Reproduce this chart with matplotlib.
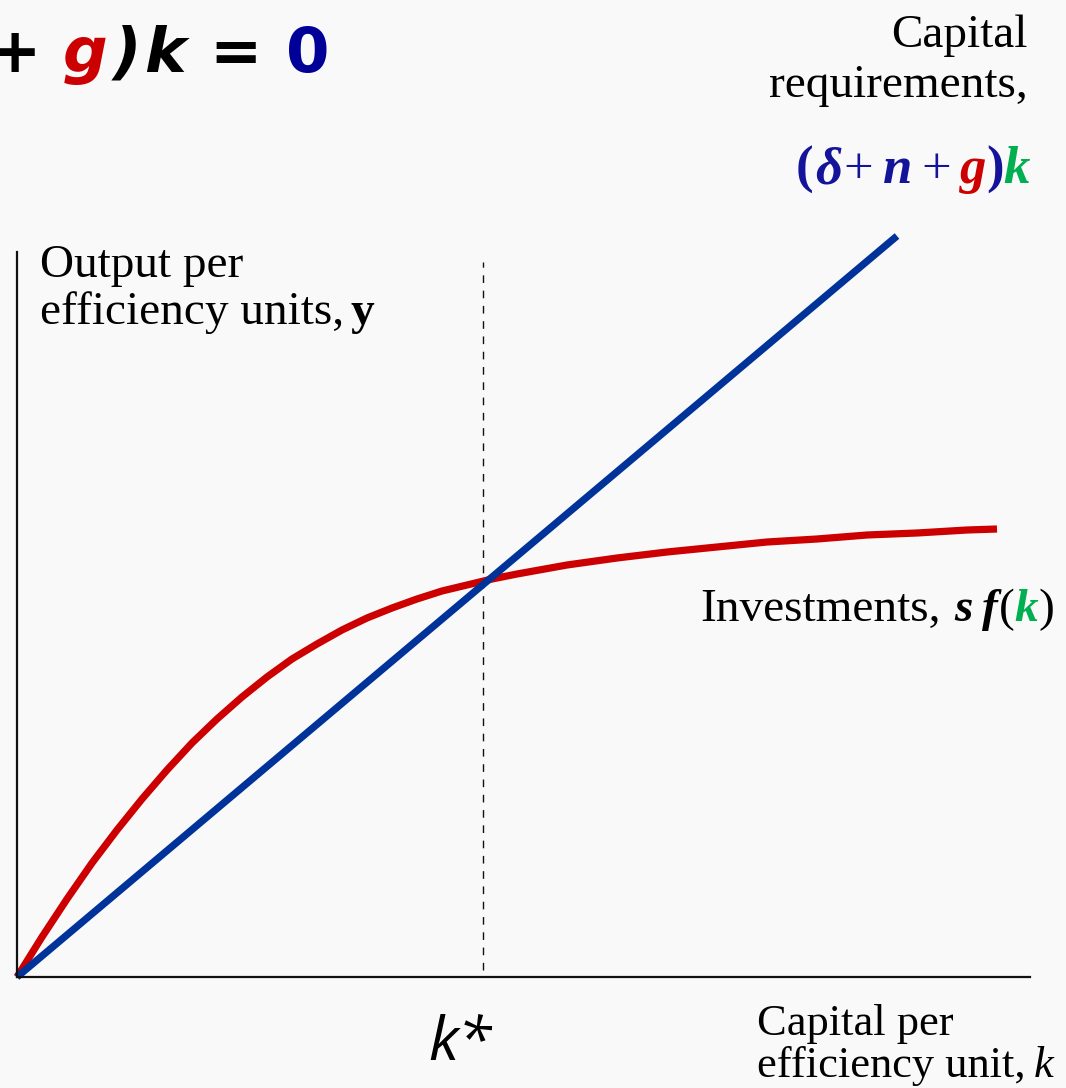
import matplotlib
matplotlib.use("Agg")
import matplotlib.pyplot as plt

W, H = 1066, 1088

# capital per efficiency unit and investment s*f(k)
k_vals = [0, 0.25, 0.5, 0.75, 1.0, 1.25, 1.5, 1.75, 2.0, 2.25, 2.5, 2.75,
          3.0, 3.25, 3.5, 3.75, 4.0, 4.25, 4.5, 4.75, 5.0, 5.5, 6.0, 6.5,
          7.0, 7.5, 8.0, 8.5, 9.0, 9.5, 9.8]
sf_vals = [0, 0.40, 0.78, 1.14, 1.47, 1.78, 2.07, 2.34, 2.58, 2.80, 3.00, 3.18,
           3.33, 3.47, 3.59, 3.69, 3.78, 3.86, 3.92, 3.98, 4.03, 4.12, 4.19,
           4.25, 4.30, 4.35, 4.38, 4.42, 4.44, 4.47, 4.48]
# capital requirements (delta + n + g) k, straight line
k_line = [0, 8.80]
req_line = [0, 7.41]
k_star = 4.66

RED = "#cc0000"
BLUE = "#003399"
NAVY = "#14149a"
GREEN = "#00b050"
SERIF = "Liberation Serif"

fig = plt.figure(figsize=(W / 100, H / 100), dpi=100, facecolor="#f9f9f9")
ax = fig.add_axes([17 / W, (H - 977) / H, 1013 / W, 725 / H])
ax.set_facecolor("none")
ax.set_xlim(0, 10.13)
ax.set_ylim(0, 7.25)
for s in ["top", "right"]:
    ax.spines[s].set_visible(False)
for s in ["left", "bottom"]:
    ax.spines[s].set_linewidth(1.6)
    ax.spines[s].set_color("#111111")
ax.set_xticks([])
ax.set_yticks([])

ax.axvline(k_star, ymin=0.01, ymax=0.986, color="#111111", lw=1.0,
           linestyle=(0, (5.5, 5.5)))
ax.plot(k_vals, sf_vals, color=RED, lw=5.2, solid_capstyle="butt",
        solid_joinstyle="round", clip_on=False)
ax.plot(k_line, req_line, color=BLUE, lw=5.2, solid_capstyle="butt",
        clip_on=False)

renderer = fig.canvas.get_renderer()


def rich(x_px, y_px, pieces, align="left"):
    # pieces: (text, kwargs) or a number = extra gap in pixels
    items = []
    total = 0
    for p in pieces:
        if isinstance(p, (int, float)):
            items.append(p)
            total += p
            continue
        txt, kw = p
        t = fig.text(0, 0, txt, va="baseline", ha="left", **kw)
        w = t.get_window_extent(renderer).width
        items.append((t, w))
        total += w
    x = x_px - total if align == "right" else x_px
    for it in items:
        if isinstance(it, (int, float)):
            x += it
            continue
        t, w = it
        t.set_position((x / W, 1 - y_px / H))
        x += w


def serif(size=34, **kw):
    d = dict(family=SERIF, fontsize=size, color="black")
    d.update(kw)
    return d


# top-left equation (cut off on the left, as in the slide)
sans = dict(family="DejaVu Sans", fontsize=45, fontweight="bold")
rich(-12, 72, [
    ("+", dict(sans, color="black")), 22,
    ("g", dict(sans, color=RED, style="italic")), 6,
    (")", dict(sans, color="black", style="italic")), 2,
    ("k", dict(sans, color="black", style="italic")), 24,
    ("=", dict(sans, color="black")), 24,
    ("0", dict(sans, color="#000099")),
])

# capital requirements label
rich(1028, 47, [("Capital", serif())], align="right")
rich(1028, 97, [("requirements,", serif())], align="right")
bi = dict(fontweight="bold", style="italic")
rich(1030, 183, [
    ("(", serif(38, color=NAVY, fontweight="bold")), 2,
    ("δ", serif(38, color=NAVY, **bi)), 2,
    ("+", serif(38, color=NAVY)), 9,
    ("n", serif(38, color=NAVY, **bi)), 9,
    ("+", serif(38, color=NAVY)), 9,
    ("g", serif(38, color=RED, **bi)),
    (")", serif(38, color=NAVY, fontweight="bold")),
    ("k", serif(38, color=GREEN, **bi)),
], align="right")

# y-axis label
rich(40, 277, [("Output per", serif())])
rich(40, 324, [("efficiency units,", serif()), 6,
               ("y", serif(fontweight="bold"))])

# investments label
rich(700, 621, [
    ("Investments,", serif()), 14,
    ("s", serif(**bi)), 9,
    ("f", serif(**bi)), 1,
    ("(", serif()),
    ("k", serif(color=GREEN, **bi)),
    (")", serif()),
])

# k* label
rich(428, 1060, [("k*", dict(family="Open Sans", fontsize=44, style="italic"))])

# x-axis label
rich(757, 1035, [("Capital per", serif(32))])
rich(757, 1077, [("efficiency unit,", serif(32)), 8,
                 ("k", serif(32, style="italic"))])

fig.savefig("out.png", dpi=100, facecolor=fig.get_facecolor())
